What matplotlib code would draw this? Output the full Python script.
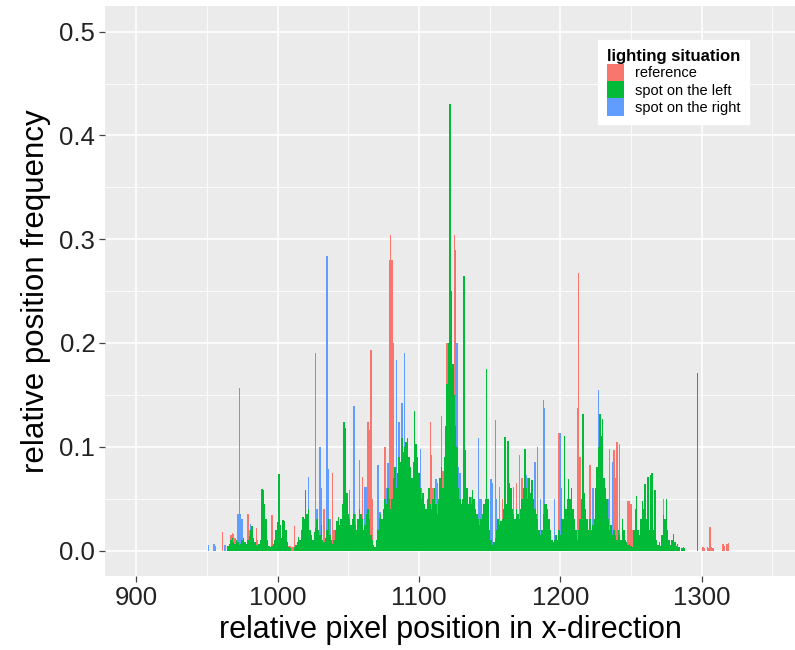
import numpy as np
import matplotlib
matplotlib.use("Agg")
import matplotlib.pyplot as plt
from matplotlib.ticker import MultipleLocator

# relative position frequency per pixel position
series_names = ["reference", "spot on the left", "spot on the right"]
series_colors = ["#F8766D", "#00BA38", "#619CFF"]

# "spot on the left": one value per pixel, starting at left_start
left_start = 965
left_vals = [
    0.004, 0.006, 0.010, 0.012, 0.008, 0.006, 0.010, 0.008, 0.005, 0.006,
    0.010, 0.012, 0.008, 0.006, 0.010, 0.014, 0.020, 0.024, 0.012, 0.008,
    0.005, 0.004, 0.006, 0.010, 0.059, 0.058, 0.045, 0.030, 0.010, 0.004,
    0.003, 0.004, 0.006, 0.010, 0.020, 0.027, 0.074, 0.025, 0.012, 0.029,
    0.028, 0.020, 0.008, 0.003, 0.002, 0.000, 0.000, 0.003, 0.005, 0.008,
    0.013, 0.010, 0.020, 0.032, 0.030, 0.058, 0.035, 0.040, 0.020, 0.015,
    0.010, 0.018, 0.022, 0.030, 0.020, 0.015, 0.025, 0.010, 0.008, 0.012,
    0.020, 0.030, 0.015, 0.010, 0.006, 0.010, 0.020, 0.028, 0.032, 0.025,
    0.030, 0.045, 0.124, 0.118, 0.055, 0.035, 0.030, 0.025, 0.030, 0.035,
    0.025, 0.020, 0.030, 0.040, 0.035, 0.030, 0.020, 0.025, 0.035, 0.040,
    0.030, 0.015, 0.010, 0.005, 0.003, 0.010, 0.020, 0.030, 0.035, 0.030,
    0.040, 0.050, 0.045, 0.060, 0.050, 0.040, 0.050, 0.070, 0.080, 0.060,
    0.075, 0.090, 0.085, 0.108, 0.095, 0.100, 0.105, 0.108, 0.090, 0.080,
    0.070, 0.085, 0.134, 0.103, 0.090, 0.075, 0.060, 0.050, 0.055, 0.045,
    0.040, 0.050, 0.060, 0.045, 0.040, 0.050, 0.060, 0.045, 0.035, 0.050,
    0.070, 0.080, 0.060, 0.090, 0.120, 0.160, 0.200, 0.430, 0.250, 0.180,
    0.150, 0.120, 0.100, 0.060, 0.050, 0.045, 0.050, 0.265, 0.097, 0.060,
    0.045, 0.052, 0.045, 0.058, 0.050, 0.040, 0.035, 0.030, 0.025, 0.030,
    0.035, 0.045, 0.050, 0.175, 0.050, 0.020, 0.010, 0.005, 0.008, 0.012,
    0.020, 0.030, 0.025, 0.028, 0.030, 0.040, 0.109, 0.045, 0.106, 0.065,
    0.060, 0.040, 0.035, 0.030, 0.040, 0.035, 0.030, 0.040, 0.050, 0.060,
    0.098, 0.060, 0.050, 0.070, 0.055, 0.068, 0.050, 0.040, 0.035, 0.030,
    0.020, 0.015, 0.020, 0.035, 0.045, 0.045, 0.040, 0.030, 0.020, 0.010,
    0.008, 0.010, 0.015, 0.010, 0.020, 0.015, 0.030, 0.030, 0.110, 0.040,
    0.050, 0.069, 0.050, 0.060, 0.040, 0.030, 0.020, 0.010, 0.020, 0.030,
    0.050, 0.132, 0.055, 0.040, 0.030, 0.020, 0.030, 0.020, 0.025, 0.030,
    0.060, 0.080, 0.100, 0.132, 0.110, 0.127, 0.070, 0.060, 0.050, 0.030,
    0.020, 0.025, 0.015, 0.020, 0.015, 0.010, 0.020, 0.015, 0.010, 0.030,
    0.020, 0.010, 0.008, 0.005, 0.006, 0.004, 0.003, 0.020, 0.040, 0.053,
    0.020, 0.015, 0.030, 0.048, 0.040, 0.064, 0.030, 0.071, 0.020, 0.073,
    0.075, 0.020, 0.058, 0.010, 0.005, 0.008, 0.004, 0.015, 0.034, 0.030,
    0.050, 0.020, 0.010, 0.005, 0.010, 0.016, 0.008, 0.004, 0.006, 0.003,
    0.000, 0.002, 0.003, 0.002, 0.000, 0.000, 0.000, 0.000, 0.000, 0.000,
    0.000, 0.000, 0.171,
]

# "reference": (pixel position, frequency)
ref_bars = [
    (961, 0.018), (967, 0.015), (968, 0.017), (969, 0.016), (970, 0.012),
    (979, 0.035), (980, 0.020), (985, 0.022), (986, 0.010), (996, 0.034),
    (1003, 0.010), (1008, 0.004), (1009, 0.004), (1010, 0.003), (1011, 0.003),
    (1012, 0.024), (1013, 0.004), (1033, 0.040), (1039, 0.075), (1040, 0.020),
    (1058, 0.087), (1060, 0.071), (1064, 0.124), (1065, 0.116), (1066, 0.193),
    (1067, 0.050), (1076, 0.100), (1079, 0.280), (1080, 0.304), (1081, 0.280),
    (1082, 0.200), (1108, 0.124), (1109, 0.092), (1110, 0.060), (1116, 0.130),
    (1117, 0.077), (1120, 0.200), (1125, 0.304), (1157, 0.061), (1159, 0.050),
    (1163, 0.040), (1167, 0.061), (1169, 0.065), (1171, 0.092), (1173, 0.070),
    (1177, 0.055), (1190, 0.042), (1199, 0.113), (1212, 0.137), (1213, 0.267),
    (1214, 0.090), (1221, 0.082), (1235, 0.098), (1238, 0.097), (1239, 0.070),
    (1240, 0.105), (1242, 0.103), (1248, 0.048), (1249, 0.048), (1250, 0.045),
    (1251, 0.020), (1252, 0.005), (1273, 0.050), (1301, 0.003), (1302, 0.002),
    (1304, 0.003), (1305, 0.002), (1306, 0.023), (1307, 0.003),
    (1308, 0.002), (1315, 0.006), (1316, 0.004), (1318, 0.006),
    (1319, 0.007),
]

# "spot on the right": (pixel position, frequency)
right_bars = [
    (951, 0.005), (955, 0.006), (956, 0.004), (963, 0.005), (972, 0.035),
    (973, 0.157), (974, 0.035), (975, 0.030), (981, 0.026), (982, 0.020),
    (1020, 0.040), (1022, 0.071), (1027, 0.190), (1028, 0.040), (1030, 0.100),
    (1031, 0.060), (1035, 0.284), (1036, 0.079), (1037, 0.030), (1051, 0.058),
    (1054, 0.139), (1055, 0.035), (1062, 0.061), (1063, 0.061), (1071, 0.082),
    (1072, 0.037), (1073, 0.037), (1077, 0.060), (1078, 0.084), (1084, 0.184),
    (1086, 0.124), (1088, 0.142), (1090, 0.190), (1091, 0.090), (1101, 0.098),
    (1102, 0.060), (1112, 0.069), (1113, 0.065), (1126, 0.290), (1127, 0.200),
    (1128, 0.080), (1129, 0.075), (1137, 0.052), (1142, 0.108), (1143, 0.050),
    (1144, 0.050), (1151, 0.069), (1152, 0.065), (1154, 0.126), (1155, 0.050),
    (1176, 0.073), (1177, 0.070), (1182, 0.085), (1184, 0.100), (1186, 0.050),
    (1188, 0.145), (1189, 0.137), (1196, 0.050), (1200, 0.113), (1201, 0.060),
    (1223, 0.060), (1227, 0.155), (1234, 0.050), (1237, 0.085), (1242, 0.071),
    (1287, 0.003),
]

y_ticks = [0.0, 0.1, 0.2, 0.3, 0.4, 0.5]
x_ticks = [900, 1000, 1100, 1200, 1300]


def setup_axes(ax):
    ax.set_facecolor("#EBEBEB")
    for s in ax.spines.values():
        s.set_visible(False)
    ax.set_xlim(878, 1366)
    ax.set_ylim(-0.0246, 0.5248)
    ax.set_xticks(x_ticks)
    ax.set_yticks(y_ticks)
    ax.set_yticklabels(["%.1f" % t for t in y_ticks])
    ax.xaxis.set_minor_locator(MultipleLocator(50))
    ax.yaxis.set_minor_locator(MultipleLocator(0.05))
    ax.grid(which="major", color="white", linewidth=1.2)
    ax.grid(which="minor", color="white", linewidth=0.6)
    ax.set_axisbelow(True)
    ax.tick_params(which="major", length=4, width=0.9, color="#444444",
                   labelsize=18.5, labelcolor="#222222", pad=3)
    ax.tick_params(which="minor", length=0)
    ax.set_xlabel("relative pixel position in x-direction", fontsize=22, labelpad=4)
    ax.set_ylabel("relative position frequency", fontsize=22.5, labelpad=6)


if __name__ == "__main__":
    plt.rcParams["font.family"] = ["Liberation Sans", "DejaVu Sans"]
    fig = plt.figure(figsize=(7.95, 6.5), dpi=100)
    ax = fig.add_axes([0.1321, 0.1138, 0.8679, 0.877])
    setup_axes(ax)

    ref_x, ref_y = zip(*ref_bars)
    right_x, right_y = zip(*right_bars)
    left_x = np.arange(left_start, left_start + len(left_vals))

    # no antialiasing so the 1-pixel bars keep their full colour
    h_ref = ax.bar(ref_x, ref_y, width=1.0, color=series_colors[0],
                   linewidth=0, antialiased=False, label=series_names[0])
    h_right = ax.bar(right_x, right_y, width=1.0, color=series_colors[2],
                     linewidth=0, antialiased=False, label=series_names[2])
    h_left = ax.bar(left_x, left_vals, width=1.0, color=series_colors[1],
                    linewidth=0, antialiased=False, label=series_names[1])

    leg = ax.legend([h_ref, h_left, h_right], series_names,
                    title="lighting situation", loc="upper left",
                    bbox_to_anchor=(0.7145, 0.9404), borderaxespad=0,
                    fontsize=10.5, title_fontsize=12, frameon=True,
                    fancybox=False, edgecolor="white", facecolor="white",
                    framealpha=1, handlelength=1.2, handleheight=1.45,
                    handletextpad=0.75, labelspacing=0.0, borderpad=0.6,
                    alignment="left")
    leg.get_title().set_fontweight("bold")

    fig.savefig("out.png", dpi=100)
